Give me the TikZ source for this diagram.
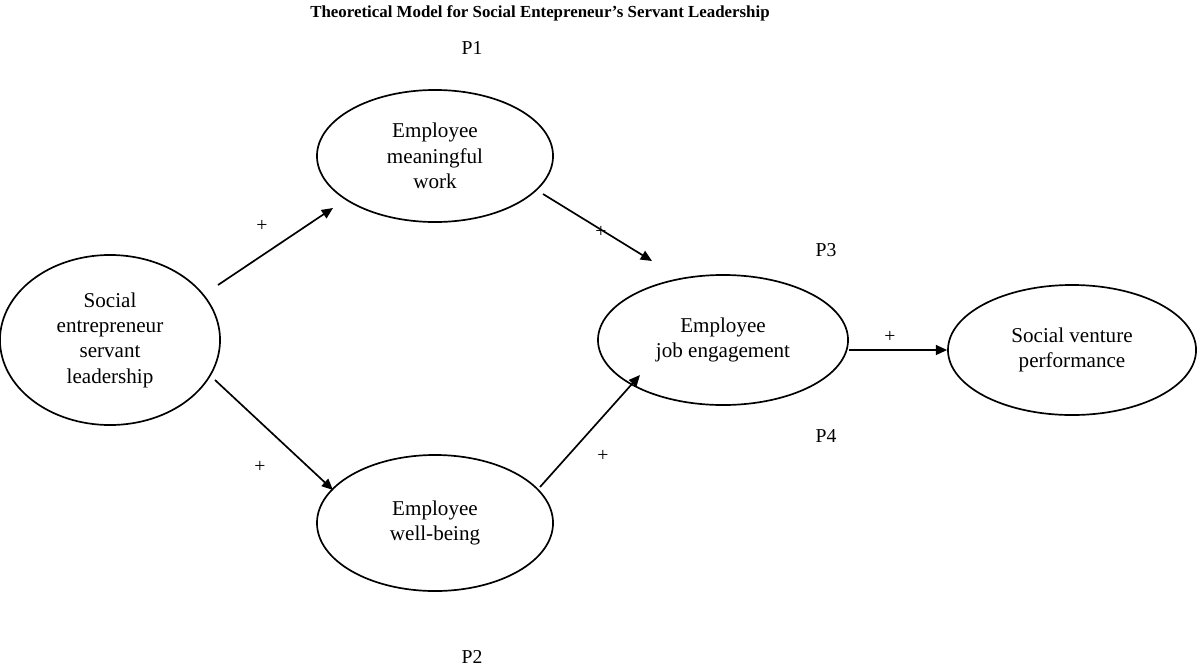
\documentclass[tikz,border=0pt]{standalone}
\usepackage{fontspec}
\setmainfont{Liberation Serif}
\usetikzlibrary{shapes.geometric,arrows.meta}
\begin{document}
\begin{tikzpicture}[x=0.025cm,y=-0.025cm,
  ell/.style={draw,line width=1.2pt,ellipse,inner sep=0pt,align=center,font=\fontsize{15}{18}\selectfont},
  arr/.style={line width=1.2pt,-{Triangle[length=8pt,width=7pt]}},
  lab/.style={font=\fontsize{14}{16}\selectfont}]
\useasboundingbox (0,0) rectangle (1200,671);
\node[font=\bfseries\fontsize{12}{14}\selectfont] (title) at (540,13) {Theoretical Model for Social Entepreneur’s Servant Leadership};
\node[ell,minimum width=5.5cm,minimum height=4.25cm] (sl) at (110,340) {Social\\entrepreneur\\servant\\leadership};
\node[ell,minimum width=5.9cm,minimum height=3.3cm] (mw) at (435,156) {Employee\\meaningful\\work};
\node[ell,minimum width=5.9cm,minimum height=3.4cm] (wb) at (435,523) {Employee\\well-being};
\node[ell,minimum width=6.25cm,minimum height=3.25cm] (je) at (723,340) {Employee\\job engagement};
\node[ell,minimum width=6.2cm,minimum height=3.25cm] (sv) at (1072,350) {Social venture\\performance};
\draw[arr] ([shift={(108,-55)}]sl.center) -- ([shift={(-102,52)}]mw.center);
\draw[arr] ([shift={(105,40)}]sl.center) -- ([shift={(-102,-33)}]wb.center);
\draw[arr] ([shift={(108,38)}]mw.center) -- ([shift={(-71,-79)}]je.center);
\draw[arr] ([shift={(105,-36)}]wb.center) -- ([shift={(-83,35)}]je.center);
\draw[arr] (je.east |- sv.west) -- (sv.west);
\node[lab] (p1) at (262,226) {+};
\node[lab] (p2) at (260,467) {+};
\node[lab] (p3) at (601,232) {+};
\node[lab] (p4) at (603,456) {+};
\node[lab] (p5) at (890,337) {+};
\node[lab] (P1) at (472,48) {P1};
\node[lab] (P2) at (472,657) {P2};
\node[lab] (P3) at (826,250) {P3};
\node[lab] (P4) at (826,436) {P4};
\end{tikzpicture}
\end{document}
